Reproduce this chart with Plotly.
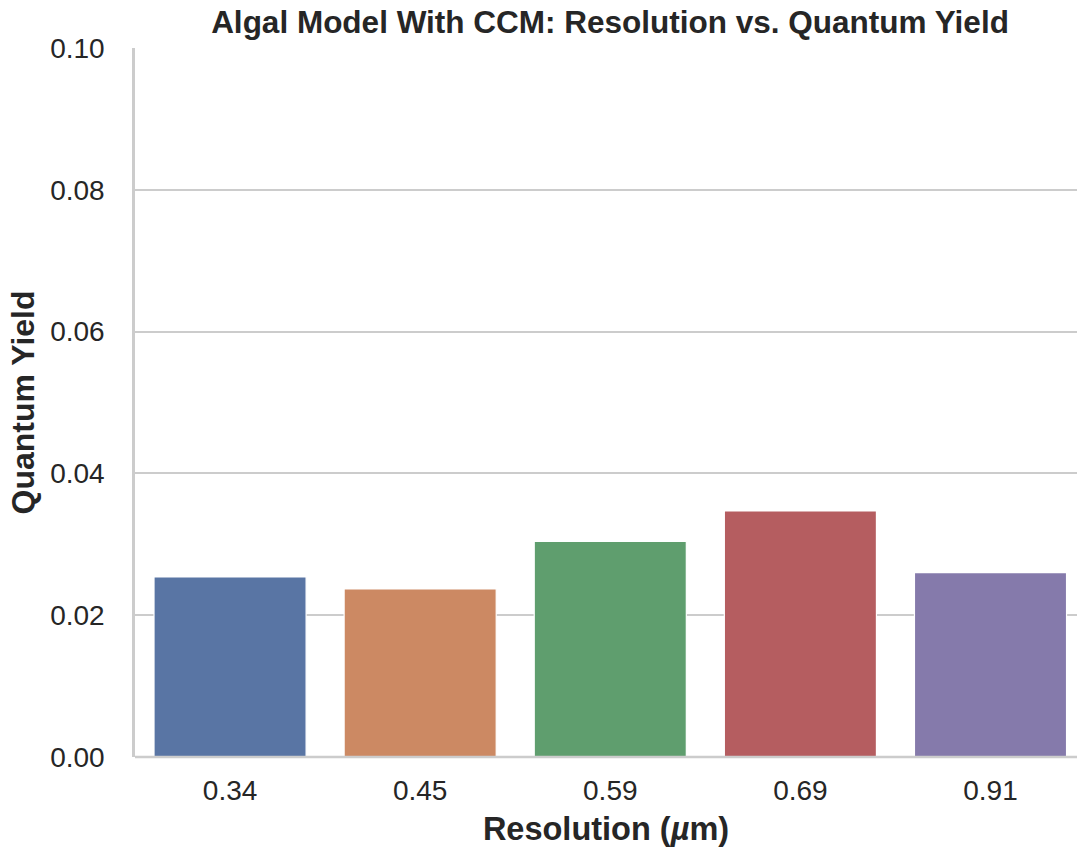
import plotly.graph_objects as go

# Resolution categories (µm) and measured quantum yield
resolution = ["0.34", "0.45", "0.59", "0.69", "0.91"]
quantum_yield = [0.0254, 0.0237, 0.0304, 0.0347, 0.0260]
bar_colors = ["#5975a4", "#cc8963", "#5f9e6e", "#b55d60", "#857aab"]

font_family = "Liberation Sans, Arial, sans-serif"
text_color = "#262626"
grid_color = "#cccccc"

fig = go.Figure(
    go.Bar(
        x=resolution,
        y=quantum_yield,
        width=0.8,
        marker=dict(color=bar_colors, line=dict(color="white", width=1.2)),
    )
)

fig.update_layout(
    width=1077,
    height=854,
    margin=dict(l=135, r=0, t=48, b=97),
    paper_bgcolor="white",
    plot_bgcolor="white",
    showlegend=False,
    title=dict(
        text="<b>Algal Model With CCM: Resolution vs. Quantum Yield</b>",
        x=0.5664,
        xanchor="center",
        y=0.974,
        yanchor="middle",
        font=dict(family=font_family, size=31.5, color=text_color),
    ),
    font=dict(family=font_family, color=text_color),
)

fig.update_xaxes(
    type="category",
    range=[-0.5, 4.455],
    showgrid=False,
    showline=False,
    zeroline=False,
    ticks="",
    ticklabelstandoff=14,
    tickfont=dict(size=28, color=text_color),
    title=dict(
        text="<b>Resolution (<i>µ</i>m)</b>",
        font=dict(size=32.5, color=text_color),
        standoff=12,
    ),
)

fig.update_yaxes(
    range=[0, 0.1],
    tickvals=[0, 0.02, 0.04, 0.06, 0.08, 0.10],
    ticktext=["0.00", "0.02", "0.04", "0.06", "0.08", "0.10"],
    showgrid=True,
    gridcolor=grid_color,
    gridwidth=2.2,
    zeroline=False,
    showline=True,
    linecolor=grid_color,
    linewidth=2.5,
    mirror=False,
    ticks="",
    ticklabelstandoff=22,
    tickfont=dict(size=28, color=text_color),
    title=dict(
        text="<b>Quantum Yield</b>",
        font=dict(size=32, color=text_color),
        standoff=6,
    ),
)

# bottom spine
fig.add_shape(
    type="line", xref="paper", yref="paper",
    x0=0, x1=1, y0=0, y1=0,
    line=dict(color=grid_color, width=2.5),
)

fig.write_html("out.html")
